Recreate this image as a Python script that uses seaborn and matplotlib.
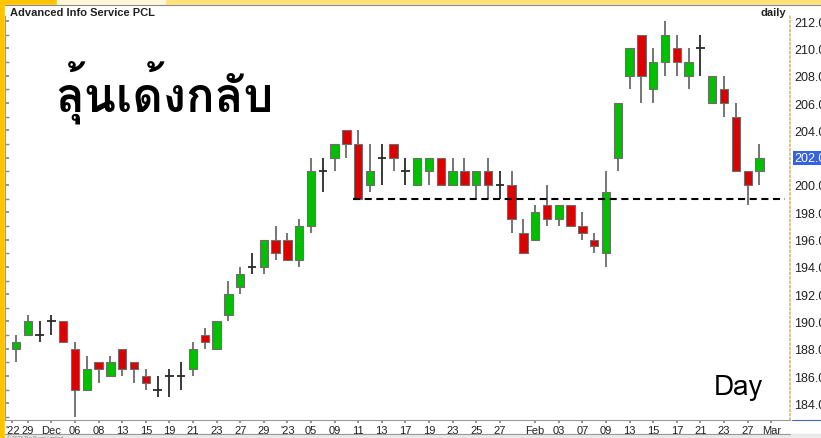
import matplotlib
matplotlib.use("Agg")
import numpy as np
import pandas as pd
import matplotlib.pyplot as plt
import seaborn as sns
from matplotlib import font_manager
from matplotlib.ft2font import FT2Font
from matplotlib.patches import Rectangle
from matplotlib.lines import Line2D
from matplotlib.ticker import MultipleLocator

# velas diarias (Nov 28 2022 -> Feb 28 2023)
opens = [188, 189, 189, 190, 190, 188, 185, 187, 186, 188,
         187, 186, 185, 186, 186, 186.5, 189, 188, 190.5, 192.5,
         194, 194, 196, 196, 194.5, 197, 201, 202, 204, 203,
         200, 202, 203, 201, 200, 201, 202, 200, 201, 200,
         201, 200, 200, 196.5, 196, 198.5, 197.5, 198.5, 197, 196,
         195, 202, 208, 211, 207, 209, 210, 208, 210, 206,
         207, 205, 201, 201]
highs = [189, 190.5, 190, 190.5, 190, 188.5, 187.5, 187, 187.5, 188,
         187, 186.5, 186, 186.5, 187, 188.5, 189.5, 190, 193, 194,
         195, 196, 197, 196.5, 197.5, 202, 202, 203, 204, 204,
         203, 203, 203, 202, 202, 202, 202, 202, 202, 201,
         202, 201, 201, 197.5, 198.5, 200, 198.5, 198.5, 198, 196.5,
         201, 206, 210, 211, 210, 212, 211, 210, 211, 208,
         208, 206, 201, 203]
lows = [187, 189, 188.5, 189, 188.5, 183, 185, 185.5, 186, 186,
        185.5, 185, 184.5, 184.5, 185, 186, 188, 188, 190, 192,
        193.5, 193.5, 194.5, 194.5, 194, 196.5, 199.5, 201, 202, 199,
        199.5, 200, 201, 200, 200, 200, 200, 200, 200, 199,
        199, 199, 196.5, 195, 196, 197, 197, 197, 196, 195,
        194, 201, 207, 206, 206, 208, 208, 207, 208, 206,
        205, 201, 198.5, 200]
closes = [188.5, 190, 189, 190, 188.5, 185, 186.5, 186.5, 187, 186.5,
          186.5, 185.5, 185, 186, 186, 188, 188.5, 190, 192, 193.5,
          194, 196, 195, 194.5, 197, 201, 201, 203, 203, 199,
          201, 202, 202, 201, 202, 202, 200, 201, 200, 201,
          200, 200, 197.5, 195, 198, 197.5, 198.5, 197, 196.5, 195.5,
          199.5, 206, 210, 208, 209, 211, 209, 209, 210, 208,
          206, 201, 200, 202]

tick_pos = [-0.3, 1, 3, 5, 7, 9, 11, 13, 15, 17, 19, 21, 23, 25, 27, 29, 31,
            33, 35, 37, 39, 41, 44, 46, 48, 50, 52, 54, 56, 58, 60, 62, 64]
tick_labels = ["'22", "29", "Dec", "06", "08", "13", "15", "19", "21", "23",
               "27", "29", "'23", "05", "09", "11", "13", "17", "19", "23",
               "25", "27", "Feb", "03", "07", "09", "13", "15", "17", "21",
               "23", "27", "Mar"]
price_ticks = [184, 186, 188, 190, 192, 194, 196, 198, 200, 202, 204, 206, 208, 210, 212]

soporte = 199        # linea discontinua
inicio_soporte = 28.6
ultimo_precio = 202

W, H = 821, 439


def fuente_thai():
    # buscar una fuente instalada que tenga glifos tailandeses
    for f in font_manager.fontManager.ttflist:
        try:
            if FT2Font(f.fname).get_char_index(0x0E25):
                return f.name
        except Exception:
            pass
    return "DejaVu Sans"


sns.set_theme(style="white")
plt.rcParams['font.family'] = ['Liberation Sans', 'DejaVu Sans']
thai = fuente_thai()

df = pd.DataFrame({"open": opens, "high": highs, "low": lows, "close": closes})
df["i"] = np.arange(len(df))
df["doji"] = df["open"] == df["close"]
df["sube"] = df["close"] > df["open"]

fig = plt.figure(figsize=(W / 100, H / 100), dpi=100)
fig.patch.set_facecolor("#FFC400")


def rect_px(x0, y0, x1, y1, color):
    fig.patches.append(Rectangle((x0 / W, 1 - y1 / H), (x1 - x0) / W, (y1 - y0) / H,
                                 transform=fig.transFigure, color=color, zorder=-5))


# marco amarillo
rect_px(165, 0, W, 6, "#FFE27A")
rect_px(57, 0, 165, 6, "#FFF6D8")
rect_px(5, 6, W, 435, "white")
rect_px(5, 435, W, H, "#E9E9E9")
fig.lines.append(Line2D([5 / W, 1], [1 - 6 / H] * 2, transform=fig.transFigure,
                        color="#8A8A8A", lw=0.8, zorder=-4))
fig.lines.append(Line2D([5 / W, 790 / W], [1 - 435 / H] * 2, transform=fig.transFigure,
                        color="#9A9A9A", lw=0.8, zorder=-4))
fig.lines.append(Line2D([792 / W, 1], [1 - 421 / H] * 2, transform=fig.transFigure,
                        color="#4565C8", lw=0.8, zorder=-4))

ax = fig.add_axes([5 / W, 18 / H, 785 / W, 404 / H])
ax.set_facecolor("none")

# mechas
velas = df[~df["doji"]]
ax.vlines(velas["i"], velas["low"], velas["high"], color="#6A6A6A", lw=1.3, zorder=1)
doji = df[df["doji"]]
ax.vlines(doji["i"], doji["low"], doji["high"], color="#2A2A2A", lw=1.3, zorder=1)
ax.hlines(doji["close"], doji["i"] - 0.35, doji["i"] + 0.35, color="#2A2A2A", lw=1.3, zorder=2)

# cuerpos
colores = np.where(velas["sube"], "#00C000", "#DD0000")
ax.bar(velas["i"], (velas["close"] - velas["open"]).abs(),
       bottom=velas[["open", "close"]].min(axis=1), width=0.7,
       color=colores, edgecolor="#6E6E6E", linewidth=0.8, zorder=3)

# soporte
ax.hlines(soporte, inicio_soporte, 65.2, color="black", lw=1.5,
          linestyle=(0, (3.4, 2.2)), zorder=4)

ax.set_xlim(-0.93, 65.59)
ax.set_ylim(182.78, 212.38)
ax.set_xticks(tick_pos)
ax.set_xticklabels(tick_labels)
ax.set_yticks(price_ticks)
ax.set_yticklabels(["" if p == ultimo_precio else f"{p:.1f}" for p in price_ticks])
ax.yaxis.set_minor_locator(MultipleLocator(1))
ax.yaxis.set_ticks_position("both")
ax.tick_params(axis="y", which="both", left=True, right=False, direction="in",
               length=3, color="#888888", labelleft=False, labelright=True,
               labelsize=9, labelcolor="#222222", pad=3)
ax.tick_params(axis="x", bottom=True, direction="out", length=2.5, color="#888888",
               labelsize=8, labelcolor="#222222", pad=1)

ax.spines["top"].set_visible(False)
ax.spines["bottom"].set_color("#9A9A9A")
ax.spines["bottom"].set_linewidth(0.8)
ax.spines["left"].set_color("#9A9A9A")
ax.spines["left"].set_linewidth(0.8)
ax.spines["right"].set_color("#D6B876")
ax.spines["right"].set_linestyle(":")
ax.spines["right"].set_linewidth(1.2)

# ultimo precio resaltado
ax.annotate(f"{ultimo_precio:.1f}", xy=(1, ultimo_precio), xycoords=("axes fraction", "data"),
            xytext=(3, 0), textcoords="offset points", ha="left", va="center",
            fontsize=9, color="white",
            bbox=dict(boxstyle="square,pad=0.08", fc="#3462E0", ec="none"))

# textos
fig.text(10 / W, 1 - 13 / H, "Advanced Info Service PCL", fontsize=8, fontweight="bold",
         color="#222222", va="center", ha="left")
fig.text(786 / W, 1 - 13 / H, "daily", fontsize=8, fontweight="bold",
         color="#222222", va="center", ha="right")
fig.text(55 / W, 1 - 92 / H, "ลุ้นเด้งกลับ", fontsize=34, fontweight="bold",
         family=[thai, "DejaVu Sans"], color="black", va="center", ha="left")
fig.text(714 / W, 1 - 388 / H, "Day", fontsize=20, family=[thai, "DejaVu Sans"],
         color="black", va="center", ha="left")
fig.text(7 / W, 1 - 438 / H, "© 2023 TheQuant Limited", fontsize=3.5, color="#777777",
         va="center", ha="left")

fig.savefig("out.png", dpi=100, facecolor=fig.get_facecolor())
